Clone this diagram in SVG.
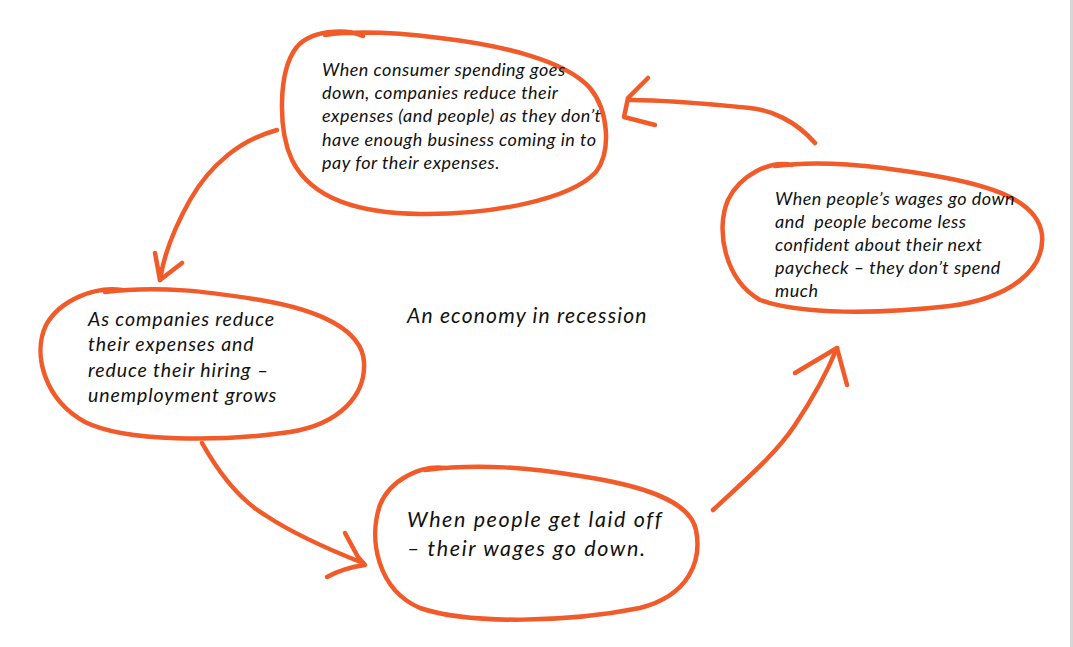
<svg xmlns="http://www.w3.org/2000/svg" width="1073" height="647" viewBox="0 0 1073 647">
<style>
.loop{fill:none;stroke:#F15A29;stroke-width:4.5;stroke-linecap:round;stroke-linejoin:round}
.conn{fill:none;stroke:#F15A29;stroke-width:4.5;stroke-linecap:round;stroke-linejoin:round}
.t{font-family:Lato,"Liberation Sans",sans-serif;font-style:italic;fill:#111}
</style>
<rect x="0" y="0" width="1073" height="647" fill="#ffffff"/>
<rect x="1070" y="0" width="3" height="647" fill="#d6d6d6"/>

<g id="node-top">
<path class="loop" d="M 363 36 C 345 28, 310 30, 296 48 C 278 72, 278 130, 292 160 C 312 200, 360 213, 420 214 C 490 215, 570 200, 596 172 C 612 150, 608 110, 590 88 C 565 60, 500 45, 440 38 C 400 33, 360 30, 325 35"/>
<text class="t" font-size="18" letter-spacing="0.5"><tspan x="322" y="76">When consumer spending goes</tspan><tspan x="322" y="99">down, companies reduce their</tspan><tspan x="322" y="122">expenses (and people) as they don’t</tspan><tspan x="322" y="146">have enough business coming in to</tspan><tspan x="322" y="169">pay for their expenses.</tspan></text>
</g>

<g id="node-right">
<path class="loop" d="M 792 165 C 770 160, 740 175, 728 200 C 715 230, 725 280, 760 300 C 800 315, 880 314, 950 306 C 1010 298, 1045 270, 1042 235 C 1038 200, 990 185, 930 175 C 870 165, 820 160, 775 166"/>
<text class="t" font-size="18" letter-spacing="0.5"><tspan x="775" y="205">When people’s wages go down</tspan><tspan x="775" y="228" xml:space="preserve">and  people become less</tspan><tspan x="775" y="251">confident about their next</tspan><tspan x="775" y="274">paycheck – they don’t spend</tspan><tspan x="775" y="297">much</tspan></text>
</g>

<g id="node-left">
<path class="loop" d="M 122 290 C 95 286, 60 300, 46 325 C 32 355, 45 400, 85 422 C 125 442, 220 442, 290 432 C 340 424, 366 395, 364 362 C 362 330, 320 310, 260 300 C 210 292, 160 285, 105 292"/>
<text class="t" font-size="19.5" letter-spacing="0.9"><tspan x="88" y="326">As companies reduce</tspan><tspan x="88" y="351">their expenses and</tspan><tspan x="88" y="377">reduce their hiring –</tspan><tspan x="88" y="402">unemployment grows</tspan></text>
</g>

<g id="node-bottom">
<path class="loop" d="M 445 468 C 420 465, 390 480, 380 505 C 368 540, 378 590, 420 608 C 470 625, 570 622, 640 608 C 690 595, 702 560, 696 530 C 690 500, 640 485, 580 476 C 530 468, 480 463, 425 470"/>
<text class="t" font-size="21.5" letter-spacing="1.6"><tspan x="407" y="527">When people get laid off</tspan><tspan x="407" y="556">– their wages go down.</tspan></text>
</g>

<g id="title">
<text class="t" font-size="21" letter-spacing="1.2" x="407" y="323">An economy in recession</text>
</g>

<g id="connectors">
<path class="conn" d="M 815 143 C 795 120, 770 110, 750 108 C 710 104, 670 100, 630 100"/>
<path class="conn" d="M 648 78 L 628 98 L 624 117 L 655 125"/>
<path class="conn" d="M 277 130 C 240 140, 210 165, 190 200 C 172 232, 163 260, 160 280"/>
<path class="conn" d="M 155 253 L 160 280 L 182 263"/>
<path class="conn" d="M 202 443 C 220 475, 240 500, 265 515 C 295 535, 330 550, 363 563"/>
<path class="conn" d="M 345 533 L 358 557 L 365 565 C 350 567, 338 571, 327 577"/>
<path class="conn" d="M 713 510 C 745 480, 775 455, 795 425 C 815 395, 828 370, 837 348"/>
<path class="conn" d="M 795 373 L 837 348 L 847 385"/>
</g>
</svg>
